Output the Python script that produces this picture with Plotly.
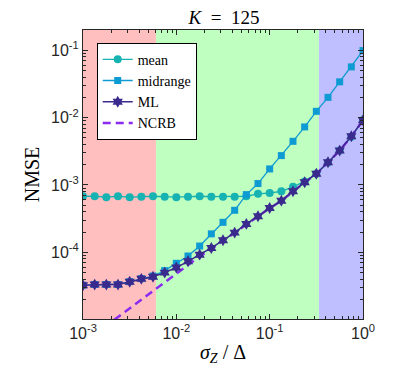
import plotly.graph_objects as go

# ---- data ----
sigma = [10 ** (-3 + 0.125 * i) for i in range(25)]  # 25 log-spaced points 1e-3 .. 1

nmse_mean = [6.8e-4, 6.8e-4, 6.6e-4, 6.8e-4, 6.6e-4, 6.7e-4, 6.8e-4, 6.7e-4,
             6.6e-4, 6.7e-4, 6.8e-4, 6.7e-4, 6.7e-4, 6.7e-4, 6.8e-4, 7.4e-4,
             7.6e-4, 8.05e-4, 9.4e-4, 1.13e-3, 1.47e-3, 2.15e-3, 3.24e-3,
             5.2e-3, 9.2e-3]

nmse_midrange = [3.25e-5, 3.33e-5, 3.33e-5, 3.33e-5, 3.67e-5, 4.07e-5, 4.45e-5,
                 5.35e-5, 6.87e-5, 8.82e-5, 1.24e-4, 1.88e-4, 2.79e-4, 4.21e-4,
                 7.19e-4, 1.05e-3, 1.73e-3, 2.73e-3, 4.45e-3, 7.28e-3, 1.24e-2,
                 2.0e-2, 3.40e-2, 5.67e-2, 9.89e-2]

nmse_ml = [3.24e-5, 3.32e-5, 3.32e-5, 3.32e-5, 3.65e-5, 4.04e-5, 4.33e-5, 5.0e-5,
           5.94e-5, 7.36e-5, 9.23e-5, 1.16e-4, 1.51e-4, 1.96e-4, 2.64e-4, 3.44e-4,
           4.56e-4, 5.85e-4, 8.05e-4, 1.10e-3, 1.47e-3, 2.17e-3, 3.24e-3, 5.28e-3,
           9.14e-3]

nmse_ncrb = [4.5e-6, 6.05e-6, 8.15e-6, 1.09e-5, 1.47e-5, 1.98e-5, 2.67e-5, 3.58e-5,
             4.82e-5, 6.49e-5, 8.7e-5, 1.12e-4, 1.48e-4, 1.93e-4, 2.60e-4, 3.40e-4,
             4.52e-4, 5.80e-4, 8.0e-4, 1.09e-3, 1.46e-3, 2.16e-3, 3.22e-3, 5.25e-3,
             9.1e-3]

# regime boundaries on the sigma axis and their colours
region_edges = [1e-3, 6.05e-3, 0.338, 1.0]
region_colors = ["#FFBFBF", "#BFFFBF", "#BFBFFF"]

# tick labels
x_tickvals = [1e-3, 1e-2, 1e-1, 1.0]
x_ticktext = ["10<sup>-3</sup>", "10<sup>-2</sup>", "10<sup>-1</sup>", "10<sup>0</sup>"]
y_tickvals = [1e-4, 1e-3, 1e-2, 1e-1]
y_ticktext = ["10<sup>-4</sup>", "10<sup>-3</sup>", "10<sup>-2</sup>", "10<sup>-1</sup>"]

serif = "Liberation Serif"
sans = "Liberation Sans"
axis_col = "#262626"

fig = go.Figure()

for i, c in enumerate(region_colors):
    fig.add_shape(type="rect", xref="x", yref="paper",
                  x0=region_edges[i], x1=region_edges[i + 1], y0=0, y1=1,
                  fillcolor=c, line_width=0, layer="below")

fig.add_trace(go.Scatter(x=sigma, y=nmse_mean, name="mean", mode="lines+markers",
                         line=dict(color="#17B2B2", width=1.3),
                         marker=dict(symbol="circle", size=8, color="#17B2B2")))
fig.add_trace(go.Scatter(x=sigma, y=nmse_midrange, name="midrange", mode="lines+markers",
                         line=dict(color="#0E9AD2", width=1.3),
                         marker=dict(symbol="square", size=7, color="#0E9AD2")))
fig.add_trace(go.Scatter(x=sigma, y=nmse_ncrb, name="NCRB", mode="lines",
                         line=dict(color="#8A2BF0", width=2.5, dash="8px,5px"),
                         showlegend=False))
fig.add_trace(go.Scatter(x=sigma, y=nmse_ml, name="ML", mode="lines+markers",
                         line=dict(color="#3B2A8E", width=1.5),
                         marker=dict(symbol="hexagram", size=9, color="#3B2A8E")))
# legend entry for NCRB (listed after ML)
fig.add_trace(go.Scatter(x=[None], y=[None], name="NCRB", mode="lines",
                         line=dict(color="#8A2BF0", width=2.5, dash="8px,5px")))

# the page body adds an 8px offset, so margins are shifted to compensate
fig.update_layout(
    width=419, height=376,
    margin=dict(l=75, r=64, t=22, b=65, autoexpand=False),
    paper_bgcolor="white", plot_bgcolor="white",
    title=dict(text="<i>K</i>  =  125", x=0.5155, xanchor="center", y=0.993, yanchor="top",
               pad=dict(t=0, b=0, l=0, r=0),
               font=dict(family=serif, size=19, color="black")),
    showlegend=True,
    legend=dict(x=0.049, y=0.956, xanchor="left", yanchor="top",
                bgcolor="white", bordercolor="black", borderwidth=1,
                font=dict(family=serif, size=14, color="black"),
                tracegroupgap=0),
)

axis_common = dict(type="log", showline=True, linecolor=axis_col, linewidth=1,
                   mirror="allticks", ticks="inside", ticklen=5, tickcolor=axis_col,
                   showgrid=False, zeroline=False, tickmode="array", automargin=False,
                   tickfont=dict(family=sans, size=16, color=axis_col),
                   minor=dict(ticks="inside", ticklen=3, tickcolor=axis_col,
                              dtick="D1", showgrid=False))

fig.update_xaxes(**axis_common, range=[-3, 0], tickvals=x_tickvals, ticktext=x_ticktext,
                 title=dict(text="<i>σ<sub>Z</sub></i> / Δ", standoff=3,
                            font=dict(family=serif, size=20, color="black")))
fig.update_yaxes(**axis_common, range=[-4.99, -0.699], tickvals=y_tickvals, ticktext=y_ticktext,
                 title=dict(text="NMSE", standoff=6,
                            font=dict(family=serif, size=20, color="black")))

fig.write_html("out.html")
